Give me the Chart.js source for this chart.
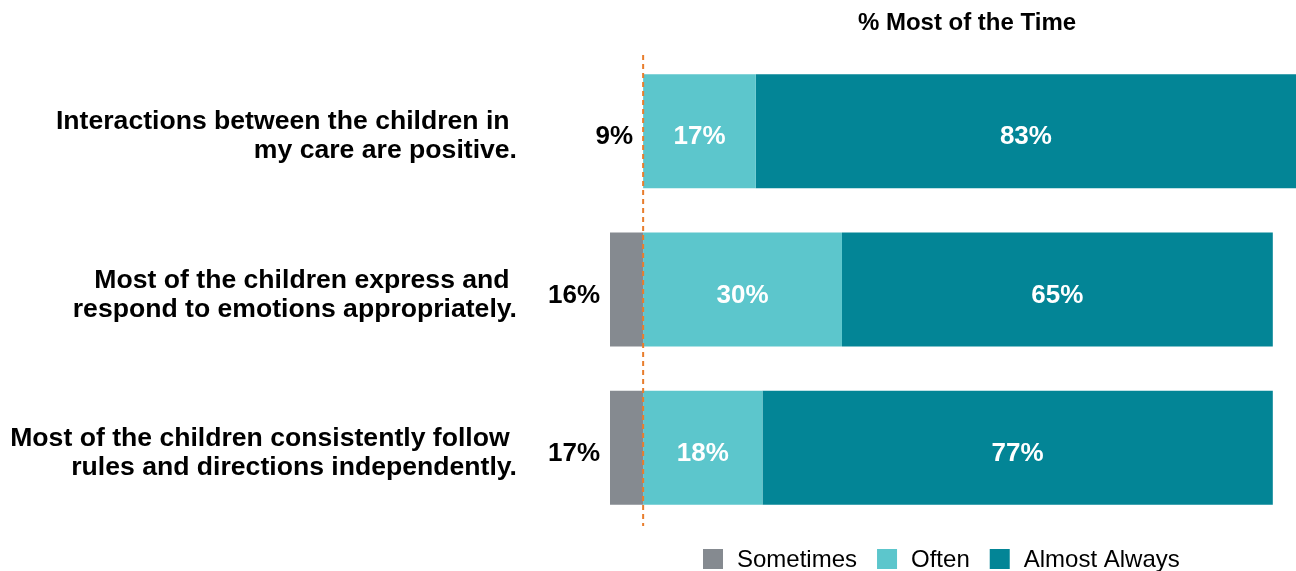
<!DOCTYPE html>
<html lang="en">
  <head>
    <meta charset="UTF-8" />
    <title>% Most of the Time</title>
    <style>
      body {
        margin: 0;
        background: #ffffff;
      }
      .chart-container {
        position: relative;
        width: 1296px;
        height: 571px;
      }
    </style>
    <script src="https://cdn.jsdelivr.net/npm/chart.js@4.4.1/dist/chart.umd.min.js"></script>
  </head>
  <body>
    <div class="chart-container">
      <canvas id="barChart"></canvas>
    </div>

    <script>
      // Datos
      const categories = [
        ["Interactions between the children in ", "my care are positive."],
        ["Most of the children express and ", "respond to emotions appropriately."],
        ["Most of the children consistently follow ", "rules and directions independently."],
      ];
      const sometimes = [0, 5, 5];
      const often = [17, 30, 18];
      const almostAlways = [83, 65, 77];
      const sideLabels = ["9%", "16%", "17%"];
      const seriesNames = ["Sometimes", "Often", "Almost Always"];
      const title = "% Most of the Time";

      const colors = ["#858a90", "#5cc6cc", "#038596"];
      const fontFamily = '"Liberation Sans", Arial, sans-serif';

      // etiquetas, línea punteada, título y leyenda
      const extras = {
        id: "extras",
        afterDatasetsDraw(chart) {
          const ctx = chart.ctx;
          const xs = chart.scales.x;
          const ys = chart.scales.y;
          const area = chart.chartArea;
          ctx.save();

          // valores dentro de las barras
          ctx.font = "bold 26px " + fontFamily;
          ctx.fillStyle = "#ffffff";
          ctx.textAlign = "center";
          ctx.textBaseline = "alphabetic";
          [1, 2].forEach((d) => {
            const meta = chart.getDatasetMeta(d);
            meta.data.forEach((bar, i) => {
              const v = chart.data.datasets[d].data[i];
              if (!v) return;
              const right = Math.min(bar.x, area.right);
              ctx.fillText(v + "%", (right + bar.base) / 2, bar.y + 13);
            });
          });

          // valores a la izquierda
          ctx.fillStyle = "#000000";
          ctx.textAlign = "right";
          sideLabels.forEach((t, i) => {
            const x = xs.getPixelForValue(-sometimes[i]) - 10;
            ctx.fillText(t, x, ys.getPixelForValue(i) + 13);
          });

          // categorías
          ctx.font = "bold 26.6px " + fontFamily;
          categories.forEach((lines, i) => {
            const y = ys.getPixelForValue(i);
            lines.forEach((line, j) => {
              ctx.fillText(line, 517, y - 2 + j * 29);
            });
          });

          // línea punteada en cero
          const x0 = xs.getPixelForValue(0);
          ctx.strokeStyle = "#e87d2c";
          ctx.lineWidth = 2;
          ctx.setLineDash([5, 4]);
          ctx.beginPath();
          ctx.moveTo(x0, 55);
          ctx.lineTo(x0, 526);
          ctx.stroke();
          ctx.setLineDash([]);

          // título
          ctx.font = "bold 24px " + fontFamily;
          ctx.textAlign = "center";
          ctx.fillText(title, 967, 30);

          // leyenda
          ctx.font = "24px " + fontFamily;
          ctx.textAlign = "left";
          let lx = 703;
          seriesNames.forEach((name, i) => {
            ctx.fillStyle = colors[i];
            ctx.fillRect(lx, 549, 20, 20);
            ctx.fillStyle = "#000000";
            ctx.fillText(name, lx + 34, 567);
            lx += 34 + ctx.measureText(name).width + 20;
          });

          ctx.restore();
        },
      };

      const ctx = document.getElementById("barChart").getContext("2d");
      new Chart(ctx, {
        type: "bar",
        data: {
          labels: categories,
          datasets: [
            { label: seriesNames[0], data: sometimes.map((v) => -v), backgroundColor: colors[0] },
            { label: seriesNames[1], data: often, backgroundColor: colors[1] },
            { label: seriesNames[2], data: almostAlways, backgroundColor: colors[2] },
          ],
        },
        options: {
          indexAxis: "y",
          responsive: true,
          maintainAspectRatio: false,
          animation: false,
          layout: {
            padding: { left: 610, right: 0, top: 52, bottom: 44 },
          },
          datasets: {
            bar: {
              barPercentage: 0.72,
              categoryPercentage: 1,
              borderWidth: 0,
            },
          },
          scales: {
            x: { stacked: true, min: -5, max: 98.5, display: false },
            y: { stacked: true, display: false },
          },
          plugins: {
            legend: { display: false },
            tooltip: { enabled: false },
          },
        },
        plugins: [extras],
      });
    </script>
  </body>
</html>
